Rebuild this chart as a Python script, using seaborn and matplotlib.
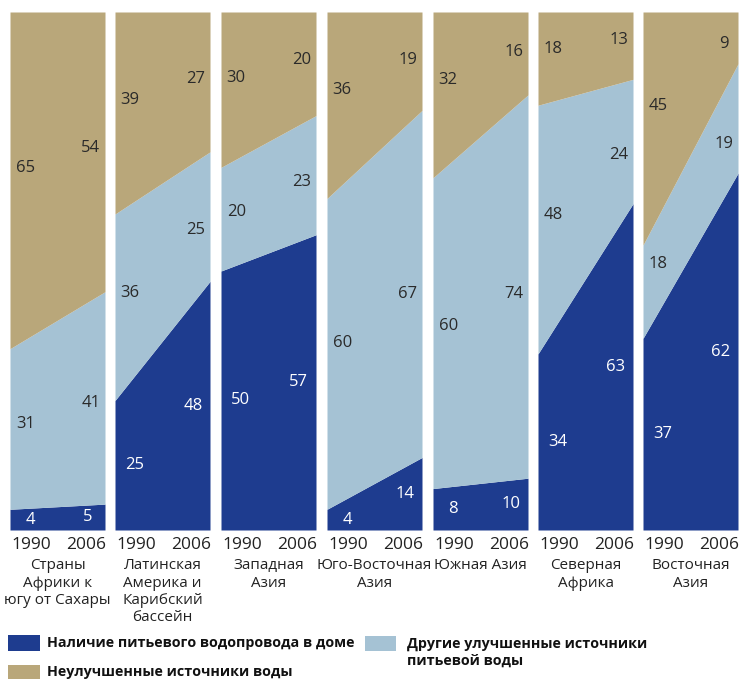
import numpy as np
import pandas as pd
import matplotlib
matplotlib.use("Agg")
import matplotlib.pyplot as plt
from matplotlib.patches import Rectangle
import seaborn as sns

regions = ["Страны\nАфрики к\nюгу от Сахары",
           "Латинская\nАмерика и\nКарибский\nбассейн",
           "Западная\nАзия",
           "Юго-Восточная\nАзия",
           "Южная Азия",
           "Северная\nАфрика",
           "Восточная\nАзия"]
years = ["1990", "2006"]
piped_1990 = [4, 25, 50, 4, 8, 34, 37]
piped_2006 = [5, 48, 57, 14, 10, 63, 62]
other_1990 = [31, 36, 20, 60, 60, 48, 18]
other_2006 = [41, 25, 23, 67, 74, 24, 19]
unimp_1990 = [65, 39, 30, 36, 32, 18, 45]
unimp_2006 = [54, 27, 20, 19, 16, 13, 9]

series_names = ["Наличие питьевого водопровода в доме",
                "Другие улучшенные источники\nпитьевой воды",
                "Неулучшенные источники воды"]
colors = ["#1e3c8f", "#a5c2d4", "#b9a77a"]

sns.set_theme(style="white")
plt.rcParams['font.family'] = ['Open Sans', 'DejaVu Sans']

rows = []
for i, r in enumerate(regions):
    for y, vals in zip(years, [(piped_1990[i], other_1990[i], unimp_1990[i]),
                               (piped_2006[i], other_2006[i], unimp_2006[i])]):
        for s, v in zip(series_names, vals):
            rows.append(dict(region=r, year=y, series=s, value=v))
df = pd.DataFrame(rows)

W, H = 740, 679
fig = plt.figure(figsize=(W / 100, H / 100), dpi=100)
lefts = [10, 115, 221, 327, 433, 538, 643]
pw = 95
top_px, bot_px = 12, 530

for i, r in enumerate(regions):
    ax = fig.add_axes([lefts[i] / W, 1 - bot_px / H, pw / W, (bot_px - top_px) / H])
    sub = df[df.region == r]
    vals = np.array([[sub[(sub.year == y) & (sub.series == s)].value.iloc[0] for s in series_names]
                     for y in years], dtype=float)
    totals = vals.sum(axis=1, keepdims=True)
    frac = vals / totals * 100
    cum = np.cumsum(frac, axis=1)
    base = np.zeros(2)
    xs = np.array([0.0, 1.0])
    for k in range(3):
        ax.fill_between(xs, base, cum[:, k], color=colors[k], linewidth=0)
        for j in range(2):
            if k == 0:
                lx = 0.21 if j == 0 else 0.82
                mid = (base[j] + cum[j, k]) / 2
            else:
                lx = 0.16 if j == 0 else 0.85
                lo = base[0] + (base[1] - base[0]) * lx
                hi = cum[0, k] + (cum[1, k] - cum[0, k]) * lx
                mid = (lo + hi) / 2
                if k == 2:
                    mid = min(mid + 1.5, 96)
            tc = "white" if k == 0 else "#2a2a2a"
            ax.text(lx, mid, f"{int(vals[j, k])}", ha="center", va="center",
                    fontsize=12, color=tc)
        base = cum[:, k]
    ax.set_xlim(0, 1)
    ax.set_ylim(0, 100)
    ax.set_xticks([0.22, 0.8])
    ax.set_xticklabels(years, fontsize=12.5, color="#222222")
    ax.tick_params(axis="x", length=0, pad=5)
    ax.set_yticks([])
    for sp in ax.spines.values():
        sp.set_visible(False)
    ax.text(0.5, -0.055, r, transform=ax.transAxes, ha="center", va="top",
            fontsize=11, color="#222222", linespacing=1.2)

# legend
def patch(x0, y0, x1, y1, c):
    fig.add_artist(Rectangle((x0 / W, 1 - y1 / H), (x1 - x0) / W, (y1 - y0) / H,
                             transform=fig.transFigure, color=c, lw=0))

patch(8, 635, 40, 651, colors[0])
fig.text(47 / W, 1 - 643 / H, series_names[0], ha="left", va="center",
         fontsize=10.3, fontweight="bold", color="#111111")
patch(365, 636, 396, 651, colors[1])
fig.text(407 / W, 1 - 652 / H, series_names[1], ha="left", va="center",
         fontsize=10.3, fontweight="bold", color="#111111", linespacing=1.25)
patch(8, 665, 40, 679, colors[2])
fig.text(47 / W, 1 - 672 / H, series_names[2], ha="left", va="center",
         fontsize=10.3, fontweight="bold", color="#111111")

fig.savefig("out.png", dpi=100)
